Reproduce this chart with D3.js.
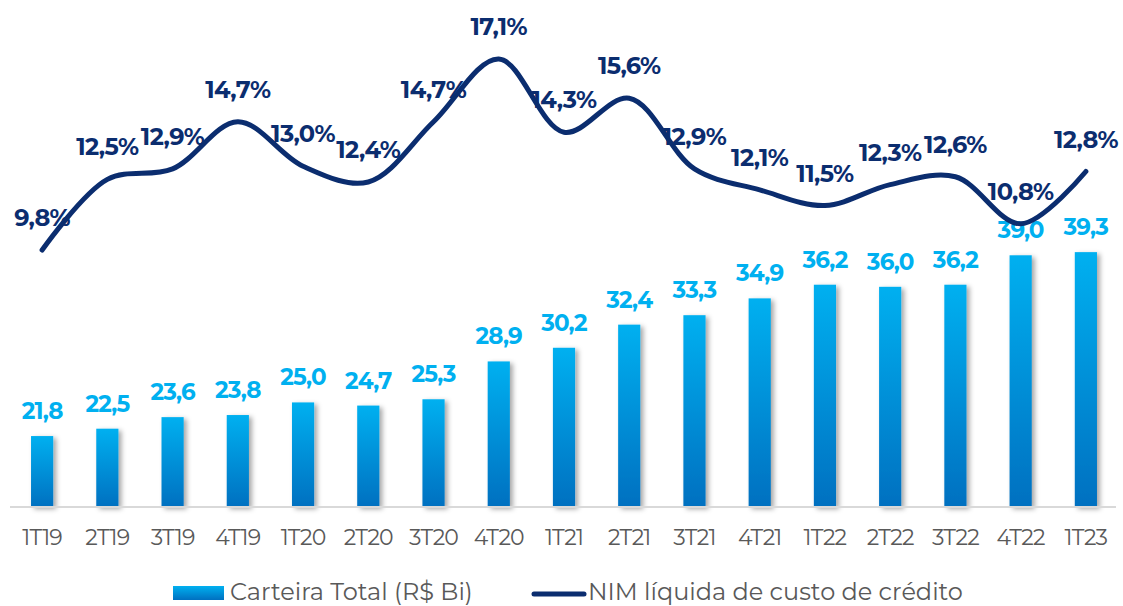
<!DOCTYPE html>
<html><head><meta charset="utf-8">
<script src="https://cdn.jsdelivr.net/npm/d3@7"></script>
<style>body{margin:0;background:#fff;}svg{display:block;}</style>
</head><body>
<svg id="c" width="1123" height="606"></svg>
<script>
const categories = ["1T19","2T19","3T19","4T19","1T20","2T20","3T20","4T20","1T21","2T21","3T21","4T21","1T22","2T22","3T22","4T22","1T23"];
const carteira = [21.8,22.5,23.6,23.8,25.0,24.7,25.3,28.9,30.2,32.4,33.3,34.9,36.2,36.0,36.2,39.0,39.3];
const nim = [9.8,12.5,12.9,14.7,13.0,12.4,14.7,17.1,14.3,15.6,12.9,12.1,11.5,12.3,12.6,10.8,12.8];
const legendLabels = ["Carteira Total (R$ Bi)","NIM líquida de custo de crédito"];

const fmt = v => v.toFixed(1).replace(".", ",");
const FONT = "Montserrat, 'Open Sans', sans-serif";
const svg = d3.select("#c");
const defs = svg.append("defs");
const g1 = defs.append("linearGradient").attr("id","bg").attr("x1",0).attr("y1",0).attr("x2",0).attr("y2",1);
g1.append("stop").attr("offset","0%").attr("stop-color","#00b0f0");
g1.append("stop").attr("offset","100%").attr("stop-color","#0070c0");
const f = defs.append("filter").attr("id","sh").attr("x","-50%").attr("y","-10%").attr("width","200%").attr("height","130%");
f.append("feDropShadow").attr("dx",3).attr("dy",2).attr("stdDeviation",2.5).attr("flood-color","#000").attr("flood-opacity",0.35);

const x = d3.scaleBand().domain(categories).range([9.5, 1118.5]).paddingInner(0.66).paddingOuter(0.33);
const yBar = d3.scaleLinear().domain([15.05, 40]).range([507, 507 - (40-15.05)*10.51]);
const yLine = d3.scaleLinear().domain([9.8, 17.1]).range([250, 59]);
const cx = d => x(d) + x.bandwidth()/2;

// bars
svg.append("g").selectAll("rect").data(carteira).join("rect")
  .attr("x",(d,i)=>x(categories[i])).attr("y",d=>yBar(d))
  .attr("width",x.bandwidth()).attr("height",d=>507-yBar(d))
  .attr("fill","url(#bg)").attr("filter","url(#sh)");

// axis
const ax = svg.append("g").attr("transform","translate(0,507)")
  .call(d3.axisBottom(x).tickSize(0).tickPadding(22));
ax.select(".domain").attr("stroke","#d9d9d9").attr("stroke-width",2).attr("d","M10,0H1116");
ax.selectAll("text").attr("font-family",FONT).attr("font-size",22).attr("letter-spacing","-0.8px").attr("fill","#595959");

// bar labels
svg.append("g").selectAll("text").data(carteira).join("text")
  .attr("x",(d,i)=>cx(categories[i])).attr("y",d=>yBar(d)-17)
  .attr("text-anchor","middle").attr("font-family",FONT).attr("font-weight",700)
  .attr("font-size",23).attr("letter-spacing","-0.8px").attr("fill","#00b0f0").text(d=>fmt(d));

// line
const line = d3.line().x((d,i)=>cx(categories[i])).y(d=>yLine(d)).curve(d3.curveCatmullRom.alpha(0.5));
svg.append("path").datum(nim).attr("d",line).attr("fill","none")
  .attr("stroke","#0b2d6f").attr("stroke-width",5).attr("stroke-linecap","round");

svg.append("g").selectAll("text").data(nim).join("text")
  .attr("x",(d,i)=>cx(categories[i])).attr("y",d=>yLine(d)-24)
  .attr("text-anchor","middle").attr("font-family",FONT).attr("font-weight",700)
  .attr("font-size",24).attr("letter-spacing","-0.6px").attr("fill","#0b2d6f").text(d=>fmt(d)+"%");

// legend
const lg = svg.append("g");
lg.append("rect").attr("x",173).attr("y",586).attr("width",51).attr("height",14).attr("fill","url(#bg)");
lg.append("text").attr("x",230).attr("y",600).attr("font-family",FONT).attr("font-size",24).attr("fill","#595959").text(legendLabels[0]);
lg.append("line").attr("x1",534).attr("x2",584).attr("y1",594).attr("y2",594).attr("stroke","#0b2d6f").attr("stroke-width",5).attr("stroke-linecap","round");
lg.append("text").attr("x",588).attr("y",600).attr("font-family",FONT).attr("font-size",24).attr("fill","#595959").text(legendLabels[1]);
</script>
</body></html>
